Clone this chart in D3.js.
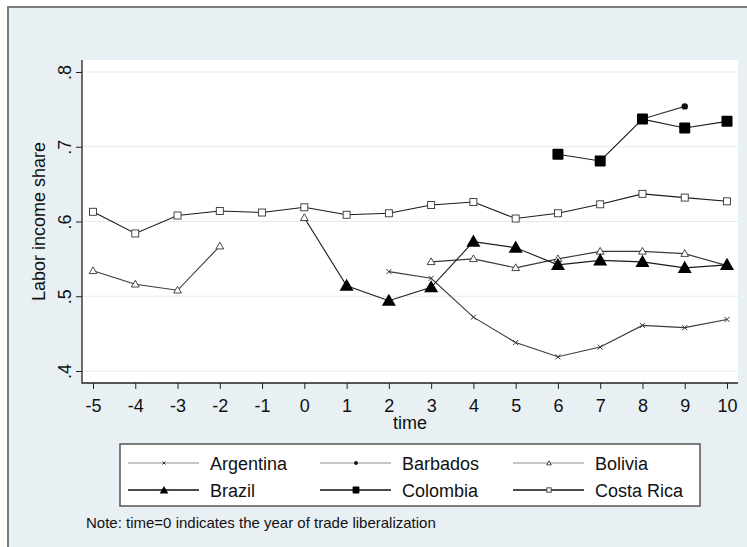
<!DOCTYPE html>
<html>
<head>
<meta charset="utf-8">
<script src="https://cdn.jsdelivr.net/npm/d3@7"></script>
<style>
  body { margin: 0; background: #fff; }
  svg text { font-family: "Liberation Sans", Arial, sans-serif; fill: #111; }
</style>
</head>
<body>
<svg width="747" height="547"></svg>
<script>
// time relative to trade liberalization
var time = [-5, -4, -3, -2, -1, 0, 1, 2, 3, 4, 5, 6, 7, 8, 9, 10];
var argentina = [null, null, null, null, null, null, null, 0.533, 0.524, 0.472, 0.438, 0.419, 0.432, 0.461, 0.458, 0.469];
var barbados = [null, null, null, null, null, null, null, null, null, null, null, null, null, 0.737, 0.754, null];
var bolivia = [0.534, 0.516, 0.508, 0.567, null, null, null, null, 0.546, 0.550, 0.538, 0.550, 0.560, 0.560, 0.557, 0.541];
var brazil = [null, null, null, null, null, 0.605, 0.514, 0.494, 0.512, 0.573, 0.565, 0.542, 0.548, 0.546, 0.538, 0.542];
var colombia = [null, null, null, null, null, null, null, null, null, null, null, 0.690, 0.681, 0.737, 0.725, 0.734];
var costaRica = [0.613, 0.584, 0.608, 0.614, 0.612, 0.619, 0.609, 0.611, 0.622, 0.626, 0.604, 0.611, 0.623, 0.637, 0.632, 0.627];
var yTicks = [0.4, 0.5, 0.6, 0.7, 0.8];
// in the source the brazil marker at time 0 is drawn hollow
var brazilHollow = [0];

var series = [
  { name: "Argentina", values: argentina, marker: "x", row: 0 },
  { name: "Barbados", values: barbados, marker: "dot", row: 0 },
  { name: "Bolivia", values: bolivia, marker: "tri", row: 0 },
  { name: "Brazil", values: brazil, marker: "bigtri", row: 1 },
  { name: "Colombia", values: colombia, marker: "bigsq", row: 1 },
  { name: "Costa Rica", values: costaRica, marker: "sq", row: 1 }
];

var svg = d3.select("svg");
var bg = "#e9f0f3";

// outer frame (right/bottom edges fall off the picture)
svg.append("rect")
  .attr("x", 8).attr("y", 7).attr("width", 780).attr("height", 580)
  .attr("fill", bg).attr("stroke", "#7a7a7a").attr("stroke-width", 2);

var pLeft = 82, pRight = 738, pTop = 60, pBottom = 383;
var x = d3.scaleLinear().domain([-5, 10]).range([93, 727]);
var y = d3.scaleLinear().domain([0.4, 0.8]).range([371, 72]);

// plot region
svg.append("rect")
  .attr("x", pLeft).attr("y", pTop).attr("width", pRight - pLeft).attr("height", pBottom - pTop)
  .attr("fill", "#fff");

// grid
svg.append("g").selectAll("line").data(yTicks).enter().append("line")
  .attr("x1", pLeft).attr("x2", pRight)
  .attr("y1", function (d) { return y(d); }).attr("y2", function (d) { return y(d); })
  .attr("stroke", "#e2ebef").attr("stroke-width", 1.2);

// axes
var xAxis = svg.append("g")
  .attr("transform", "translate(0," + pBottom + ")")
  .call(d3.axisBottom(x).tickValues(time).tickSize(6).tickPadding(10)
    .tickFormat(function (d) { return String(d); }));
xAxis.select(".domain").remove();
xAxis.selectAll("line").attr("stroke", "#222");
xAxis.selectAll("text").style("font-size", "18px").attr("fill", "#111");

var yAxis = svg.append("g")
  .attr("transform", "translate(" + pLeft + ",0)")
  .call(d3.axisLeft(y).tickValues(yTicks).tickSize(6)
    .tickFormat(function (d) { return d3.format(".1f")(d).replace(/^0/, ""); }));
yAxis.select(".domain").remove();
yAxis.selectAll("line").attr("stroke", "#222");
yAxis.selectAll("text")
  .attr("transform", "rotate(-90)")
  .attr("x", 0).attr("y", -11).attr("dy", 0)
  .attr("text-anchor", "middle")
  .style("font-size", "18px").attr("fill", "#111");

svg.append("path")
  .attr("d", "M" + pLeft + "," + pTop + "V" + pBottom + "H" + pRight)
  .attr("fill", "none").attr("stroke", "#222").attr("stroke-width", 1.3);

// titles
svg.append("text")
  .attr("x", (pLeft + pRight) / 2).attr("y", 429)
  .attr("text-anchor", "middle").style("font-size", "18px")
  .text("time");

svg.append("text")
  .attr("text-anchor", "middle")
  .attr("transform", "translate(45," + (pTop + pBottom) / 2 + ")rotate(-90)")
  .style("font-size", "18px")
  .text("Labor income share");

function drawMarker(g, type, cx, cy, hollow, k) {
  if (type === "x") {
    var a = 2.5 * k;
    g.append("path")
      .attr("d", "M" + (cx - a) + "," + (cy - a) + "L" + (cx + a) + "," + (cy + a) +
        "M" + (cx - a) + "," + (cy + a) + "L" + (cx + a) + "," + (cy - a))
      .attr("stroke", "#333").attr("stroke-width", 1);
  } else if (type === "dot") {
    g.append("circle").attr("cx", cx).attr("cy", cy).attr("r", 3.2 * k).attr("fill", "#111");
  } else if (type === "tri" || (type === "bigtri" && hollow)) {
    g.append("path")
      .attr("d", d3.symbol().type(d3.symbolTriangle).size(26 * k * k)())
      .attr("transform", "translate(" + cx + "," + (cy + 0.5) + ")")
      .attr("fill", "#fff").attr("stroke", "#333").attr("stroke-width", 0.9);
  } else if (type === "bigtri") {
    g.append("path")
      .attr("d", d3.symbol().type(d3.symbolTriangle).size(85 * k * k)())
      .attr("transform", "translate(" + cx + "," + (cy + 1) + ")")
      .attr("fill", "#000");
  } else if (type === "bigsq") {
    var h = 5.5 * k;
    g.append("rect").attr("x", cx - h).attr("y", cy - h).attr("width", 2 * h).attr("height", 2 * h)
      .attr("rx", 1).attr("fill", "#000");
  } else if (type === "sq") {
    var q = 3.5 * k;
    g.append("rect").attr("x", cx - q).attr("y", cy - q).attr("width", 2 * q).attr("height", 2 * q)
      .attr("fill", "#fff").attr("stroke", "#333").attr("stroke-width", 0.9);
  }
}

var line = d3.line()
  .defined(function (d) { return d.v != null; })
  .x(function (d) { return x(d.t); })
  .y(function (d) { return y(d.v); });

var plot = svg.append("g");
series.forEach(function (s) {
  s.pts = time.map(function (t, i) { return { t: t, v: s.values[i] }; });
  plot.append("path")
    .attr("d", line(s.pts))
    .attr("fill", "none")
    .attr("stroke", s.row ? "#1a1a1a" : "#3a3a3a")
    .attr("stroke-width", 1.1);
});
series.forEach(function (s) {
  var g = plot.append("g");
  s.pts.forEach(function (p) {
    if (p.v == null) return;
    var hollow = s.name === "Brazil" && brazilHollow.indexOf(p.t) >= 0;
    drawMarker(g, s.marker, x(p.t), y(p.v), hollow, 1);
  });
});

// legend
var legend = svg.append("g");
legend.append("rect")
  .attr("x", 120).attr("y", 444).attr("width", 580).attr("height", 62)
  .attr("fill", "#fff").attr("stroke", "#555").attr("stroke-width", 1.5);

var colX = [128, 320, 513];
var rowY = [463, 490];
series.forEach(function (s, i) {
  var cx = colX[i % 3], cy = rowY[s.row];
  legend.append("line")
    .attr("x1", cx).attr("x2", cx + 71).attr("y1", cy).attr("y2", cy)
    .attr("stroke", s.row ? "#111" : "#b5b5b5").attr("stroke-width", s.row ? 1.5 : 1.3);
  drawMarker(legend, s.marker, cx + 36, cy, false, s.row ? 0.62 : 0.6);
  legend.append("text")
    .attr("x", cx + 82).attr("y", cy + 6.5)
    .style("font-size", "18px")
    .text(s.name);
});

svg.append("text")
  .attr("x", 86).attr("y", 528)
  .style("font-size", "15px")
  .text("Note: time=0 indicates the year of trade liberalization");
</script>
</body>
</html>
